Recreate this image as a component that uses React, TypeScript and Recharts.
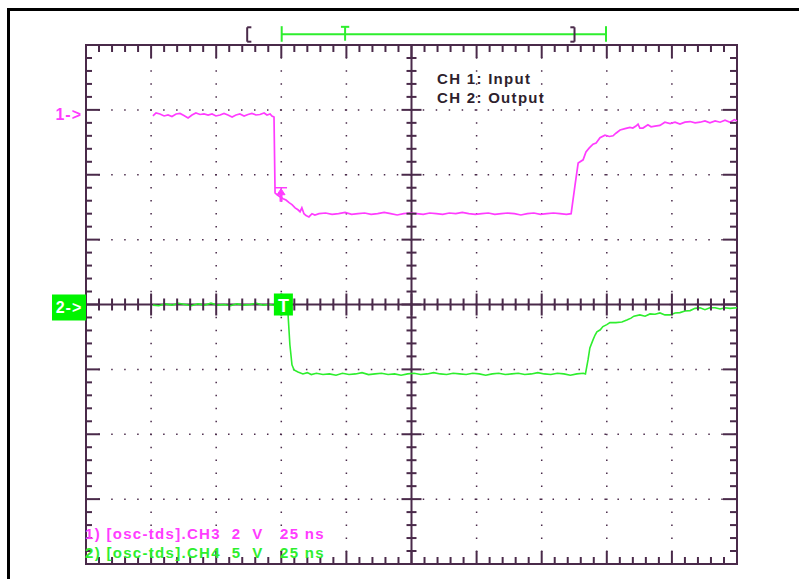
import React from 'react'
import {
  ComposedChart,
  Line,
  Scatter,
  XAxis,
  YAxis,
  CartesianGrid,
  ReferenceLine,
  ReferenceDot,
  ReferenceArea,
} from 'recharts'

// scope capture: 25 ns/div over 10 div, values in vertical divisions (8 div tall)
const FRAME = '#4a2a4a'
const MAGENTA = '#ff3cff'
const GREEN = '#2eee2e'
const GREEN_BOX = '#00f400'
const FONT = '"Liberation Sans", Arial, sans-serif'

const majorTimes = [0, 25, 50, 75, 100, 125, 150, 175, 200, 225, 250]
const majorDivs = [-4, -3, -2, -1, 0, 1, 2, 3, 4]
const ch1Level = 3
const ch2Level = 0

// CH1 (input), magenta
const ch1Time = [
  25.7, 26.9, 28.4, 30.0, 31.5, 33.0, 34.6, 36.1, 37.6, 39.2, 40.7, 42.2, 43.8, 45.3, 46.9, 48.4,
  49.9, 51.5, 53.0, 54.5, 56.1, 57.6, 59.1, 60.7, 62.2, 63.7, 65.3, 66.8, 68.4, 69.5, 70.7, 71.4,
  72.2, 72.6, 73.4, 74.5, 75.7, 76.8, 78.0, 79.1, 80.3, 81.4, 82.2, 82.9, 83.7, 84.5, 85.6, 86.8,
  87.9, 89.5, 92, 94.5, 97, 99.5, 102, 104.5, 107, 109.5, 112, 114.5, 117, 119.5, 122, 124.5, 127,
  129.5, 132, 134.5, 137, 139.5, 142, 144.5, 147, 149.5, 152, 154.5, 157, 159.5, 162, 164.5, 167,
  169.5, 172, 174.5, 177, 179.5, 182, 184.5, 186.3, 187.8, 189.0, 190.9, 192.0, 193.2, 194.7,
  195.9, 197.4, 199.3, 201.0, 202.4, 203.5, 205.1, 207.0, 208.9, 210.0, 211.2, 212.0, 212.7,
  213.9, 215.8, 217.0, 218.5, 220.4, 222.3, 224.3, 226.2, 228.1, 230.0, 232.0, 233.9, 235.8,
  237.7, 239.6, 241.6, 243.5, 245.4, 247.3, 249.0, 250,
]
const ch1Div = [
  2.906, 2.952, 2.937, 2.906, 2.921, 2.898, 2.937, 2.945, 2.914, 2.875, 2.921, 2.952, 2.929, 2.937,
  2.921, 2.937, 2.906, 2.921, 2.945, 2.921, 2.891, 2.921, 2.937, 2.906, 2.929, 2.945, 2.921, 2.929,
  2.952, 2.921, 2.937, 2.906, 2.89, 1.72, 1.69, 1.66, 1.63, 1.61, 1.57, 1.54, 1.49, 1.46, 1.43,
  1.49, 1.4, 1.37, 1.35, 1.4, 1.38, 1.4, 1.41, 1.39, 1.4, 1.42, 1.39, 1.4, 1.41, 1.39, 1.4, 1.42,
  1.4, 1.38, 1.4, 1.41, 1.4, 1.39, 1.41, 1.4, 1.39, 1.41, 1.4, 1.42, 1.4, 1.39, 1.4, 1.41, 1.39,
  1.4, 1.41, 1.4, 1.38, 1.4, 1.41, 1.39, 1.4, 1.41, 1.4, 1.39, 1.4, 1.84, 2.18, 2.23, 2.35, 2.41,
  2.47, 2.49, 2.57, 2.61, 2.59, 2.6, 2.64, 2.69, 2.71, 2.73, 2.72, 2.75, 2.78, 2.72, 2.72, 2.77,
  2.74, 2.75, 2.76, 2.81, 2.79, 2.81, 2.78, 2.81, 2.82, 2.8, 2.81, 2.83, 2.8, 2.83, 2.81, 2.84,
  2.81, 2.85, 2.83,
]

// CH2 (output), green
const ch2Time = [
  25.7, 28, 30.5, 33, 35.5, 38, 40.5, 43, 45.5, 48, 50.5, 53, 55.5, 58, 60.5, 63, 65.5, 68, 70.5,
  73, 75.5, 77.2, 77.6, 78.3, 79.1, 79.9, 81.4, 83.3, 85.0, 86.5, 88.5, 91, 93.5, 96, 98.5, 101,
  103.5, 106, 108.5, 111, 113.5, 116, 118.5, 121, 123.5, 126, 128.5, 131, 133.5, 136, 138.5, 141,
  143.5, 146, 148.5, 151, 153.5, 156, 158.5, 161, 163.5, 166, 168.5, 171, 173.5, 176, 178.5, 181,
  183.5, 186, 188.5, 191, 191.8, 192.8, 193.5, 194.7, 195.5, 196.2, 197.5, 198.5, 200, 201.2,
  203.5, 205.8, 207.7, 209.3, 210.4, 212.7, 214.7, 216.6, 218.5, 220.4, 222.3, 224.3, 226.2,
  228.1, 230, 232, 233.9, 235.8, 237.7, 239.6, 241.6, 243.5, 245.4, 247.3, 250,
]
const ch2Div = [
  -0.01, -0.02, 0.01, -0.01, 0.02, 0.0, -0.02, 0.01, -0.01, 0.02, -0.01, 0.0, -0.02, 0.01, -0.01,
  0.0, 0.02, -0.01, 0.0, -0.02, 0.0, -0.01, -0.16, -0.62, -0.93, -1.01, -1.04, -1.07, -1.05,
  -1.08, -1.06, -1.08, -1.07, -1.09, -1.06, -1.08, -1.07, -1.05, -1.08, -1.07, -1.06, -1.08,
  -1.07, -1.09, -1.07, -1.06, -1.08, -1.07, -1.05, -1.07, -1.08, -1.06, -1.07, -1.08, -1.06,
  -1.07, -1.09, -1.07, -1.06, -1.08, -1.07, -1.06, -1.08, -1.07, -1.05, -1.07, -1.08, -1.06,
  -1.07, -1.09, -1.07, -1.06, -1.07, -0.85, -0.67, -0.545, -0.47, -0.42, -0.39, -0.34, -0.31,
  -0.28, -0.28, -0.27, -0.24, -0.21, -0.18, -0.16, -0.18, -0.145, -0.15, -0.13, -0.16, -0.16,
  -0.13, -0.125, -0.1, -0.094, -0.06, -0.05, -0.08, -0.05, -0.05, -0.07, -0.05, -0.06, -0.05,
]

const ch1 = ch1Time.map((t, i) => ({ t, v: ch1Div[i] }))
const ch2 = ch2Time.map((t, i) => ({ t, v: ch2Div[i] }))

// graticule minor ticks: 5 per division
const minorT = Array.from({ length: 49 }, (_, i) => (i + 1) * 5)
const minorV = Array.from({ length: 39 }, (_, i) => Math.round((-4 + (i + 1) * 0.2) * 10) / 10)
const topTicks = minorT.map(t => ({ t, v: 4, major: t % 25 === 0 }))
const bottomTicks = minorT.map(t => ({ t, v: -4, major: t % 25 === 0 }))
const midHTicks = minorT.map(t => ({ t, v: 0, major: t % 25 === 0 }))
const leftTicks = minorV.map(v => ({ t: 0, v, major: Number.isInteger(v) }))
const rightTicks = minorV.map(v => ({ t: 250, v, major: Number.isInteger(v) }))
const midVTicks = minorV.map(v => ({ t: 125, v, major: Number.isInteger(v) }))

function tickMark(dir: string, majorLen: number, minorLen: number) {
  return (p: any) => {
    const { cx, cy } = p
    const major = p.payload ? p.payload.major : p.major
    const len = major ? majorLen : minorLen
    let x1 = cx, y1 = cy, x2 = cx, y2 = cy
    if (dir === 'down') y2 = cy + len
    if (dir === 'up') y2 = cy - len
    if (dir === 'right') x2 = cx + len
    if (dir === 'left') x2 = cx - len
    if (dir === 'vert') { y1 = cy - len; y2 = cy + len }
    if (dir === 'horiz') { x1 = cx - len; x2 = cx + len }
    return <line x1={x1} y1={y1} x2={x2} y2={y2} stroke={FRAME} strokeWidth={2} />
  }
}

const textStyle = { whiteSpace: 'pre' as const }

export default function App() {
  return (
    <div style={{ position: 'absolute', left: 0, top: 0, width: 799, height: 579, background: '#fff' }}>
      <div style={{ position: 'absolute', left: 7, top: 8, width: 800, height: 580, borderLeft: '3px solid #000', borderTop: '3px solid #000' }} />
      <ComposedChart width={799} height={579} margin={{ top: 45, right: 62, bottom: 15, left: 86 }}>
        <XAxis dataKey="t" type="number" domain={[0, 250]} ticks={majorTimes} hide />
        <YAxis dataKey="v" type="number" domain={[-4, 4]} ticks={majorDivs} hide />
        <CartesianGrid stroke={FRAME} strokeWidth={1.5} strokeDasharray="1.5 11.48" strokeDashoffset={0.75} />
        <ReferenceLine x={125} stroke={FRAME} strokeWidth={2} />
        <ReferenceLine y={0} stroke={FRAME} strokeWidth={2} />
        <ReferenceArea x1={0} x2={250} y1={-4} y2={4} fill="none" fillOpacity={0} stroke={FRAME} strokeWidth={2} ifOverflow="visible" />

        <Scatter data={topTicks} shape={tickMark('down', 13, 7)} isAnimationActive={false} />
        <Scatter data={bottomTicks} shape={tickMark('up', 13, 7)} isAnimationActive={false} />
        <Scatter data={leftTicks} shape={tickMark('right', 14, 6)} isAnimationActive={false} />
        <Scatter data={rightTicks} shape={tickMark('left', 14, 7)} isAnimationActive={false} />
        <Scatter data={midHTicks} shape={tickMark('vert', 11, 6)} isAnimationActive={false} />
        <Scatter data={midVTicks} shape={tickMark('horiz', 10, 5)} isAnimationActive={false} />

        {/* record window bar above the graticule */}
        <ReferenceLine segment={[{ x: 75.15, y: 4.165 }, { x: 199.7, y: 4.165 }]} stroke={GREEN} strokeWidth={2} ifOverflow="visible" />
        <ReferenceLine segment={[{ x: 75.15, y: 4.29 }, { x: 75.15, y: 4.05 }]} stroke={GREEN} strokeWidth={2} ifOverflow="visible" />
        <ReferenceLine segment={[{ x: 199.7, y: 4.29 }, { x: 199.7, y: 4.05 }]} stroke={GREEN} strokeWidth={2} ifOverflow="visible" />
        <ReferenceLine segment={[{ x: 99.5, y: 4.28 }, { x: 99.5, y: 4.066 }]} stroke={GREEN} strokeWidth={2} ifOverflow="visible" />
        <ReferenceLine segment={[{ x: 97.9, y: 4.28 }, { x: 101.1, y: 4.28 }]} stroke={GREEN} strokeWidth={2} ifOverflow="visible" />
        <ReferenceLine segment={[{ x: 61.9, y: 4.273 }, { x: 61.9, y: 4.051 }]} stroke={FRAME} strokeWidth={2} ifOverflow="visible" />
        <ReferenceLine segment={[{ x: 61.9, y: 4.273 }, { x: 63.5, y: 4.273 }]} stroke={FRAME} strokeWidth={2} ifOverflow="visible" />
        <ReferenceLine segment={[{ x: 61.9, y: 4.051 }, { x: 63.5, y: 4.051 }]} stroke={FRAME} strokeWidth={2} ifOverflow="visible" />
        <ReferenceLine segment={[{ x: 187.6, y: 4.273 }, { x: 187.6, y: 4.051 }]} stroke={FRAME} strokeWidth={2} ifOverflow="visible" />
        <ReferenceLine segment={[{ x: 186.0, y: 4.273 }, { x: 187.6, y: 4.273 }]} stroke={FRAME} strokeWidth={2} ifOverflow="visible" />
        <ReferenceLine segment={[{ x: 186.0, y: 4.051 }, { x: 187.6, y: 4.051 }]} stroke={FRAME} strokeWidth={2} ifOverflow="visible" />

        <Line data={ch1} dataKey="v" type="linear" stroke={MAGENTA} strokeWidth={1.7} dot={false} isAnimationActive={false} />
        <Line data={ch2} dataKey="v" type="linear" stroke={GREEN} strokeWidth={1.6} dot={false} isAnimationActive={false} />

        {/* channel ground markers left of the graticule */}
        <ReferenceDot x={0} y={ch1Level} ifOverflow="visible" shape={(p: any) => (
          <text x={p.cx - 4} y={p.cy + 10} textAnchor="end" fill={MAGENTA} fontFamily={FONT}
            fontWeight="bold" fontSize={16} letterSpacing={1}>{'1->'}</text>
        )} />
        <ReferenceDot x={0} y={ch2Level} ifOverflow="visible" shape={(p: any) => (
          <g>
            <rect x={p.cx - 34} y={p.cy - 10} width={34} height={26} fill={GREEN_BOX} />
            <text x={p.cx - 17} y={p.cy + 8} textAnchor="middle" fill="#ffffff" fontFamily={FONT}
              fontWeight="bold" fontSize={16} letterSpacing={1}>{'2->'}</text>
          </g>
        )} />

        {/* trigger level marker on CH1 */}
        <ReferenceDot x={74.9} y={1.8} ifOverflow="visible" shape={(p: any) => (
          <g fill={MAGENTA} stroke={MAGENTA}>
            <line x1={p.cx - 6} y1={p.cy} x2={p.cx + 6} y2={p.cy} strokeWidth={1.5} />
            <polygon points={`${p.cx},${p.cy + 1} ${p.cx - 4},${p.cy + 7} ${p.cx + 4},${p.cy + 7}`} strokeWidth={1} />
            <rect x={p.cx - 1.5} y={p.cy + 7} width={3} height={7} strokeWidth={0} />
          </g>
        )} />

        {/* trigger position box */}
        <ReferenceDot x={75.8} y={0} ifOverflow="visible" shape={(p: any) => (
          <g>
            <rect x={p.cx - 9.5} y={p.cy - 11} width={19} height={22} fill={GREEN_BOX} />
            <text x={p.cx} y={p.cy + 7} textAnchor="middle" fill="#fff" fontFamily={FONT} fontWeight="bold" fontSize={18}>T</text>
          </g>
        )} />

        <ReferenceDot x={134.8} y={3.4} ifOverflow="visible" shape={(p: any) => (
          <g fill="#2e1f2e" fontFamily={FONT} fontWeight="bold" fontSize={15} letterSpacing={1.3}>
            <text x={p.cx} y={p.cy} style={textStyle}>CH 1: Input</text>
            <text x={p.cx} y={p.cy + 19.5} style={textStyle}>CH 2: Output</text>
          </g>
        )} />

        <ReferenceDot x={0} y={-3.612} ifOverflow="visible" shape={(p: any) => (
          <g fontFamily={FONT} fontWeight="bold" fontSize={15} letterSpacing={1.3}>
            <text x={p.cx - 1} y={p.cy} fill={MAGENTA} style={textStyle} xmlSpace="preserve">{'1) [osc-tds].CH3  2  V   25 ns'}</text>
            <text x={p.cx - 1} y={p.cy + 19.5} fill={GREEN} style={textStyle} xmlSpace="preserve">{'2) [osc-tds].CH4  5  V   25 ns'}</text>
          </g>
        )} />
      </ComposedChart>
    </div>
  )
}
